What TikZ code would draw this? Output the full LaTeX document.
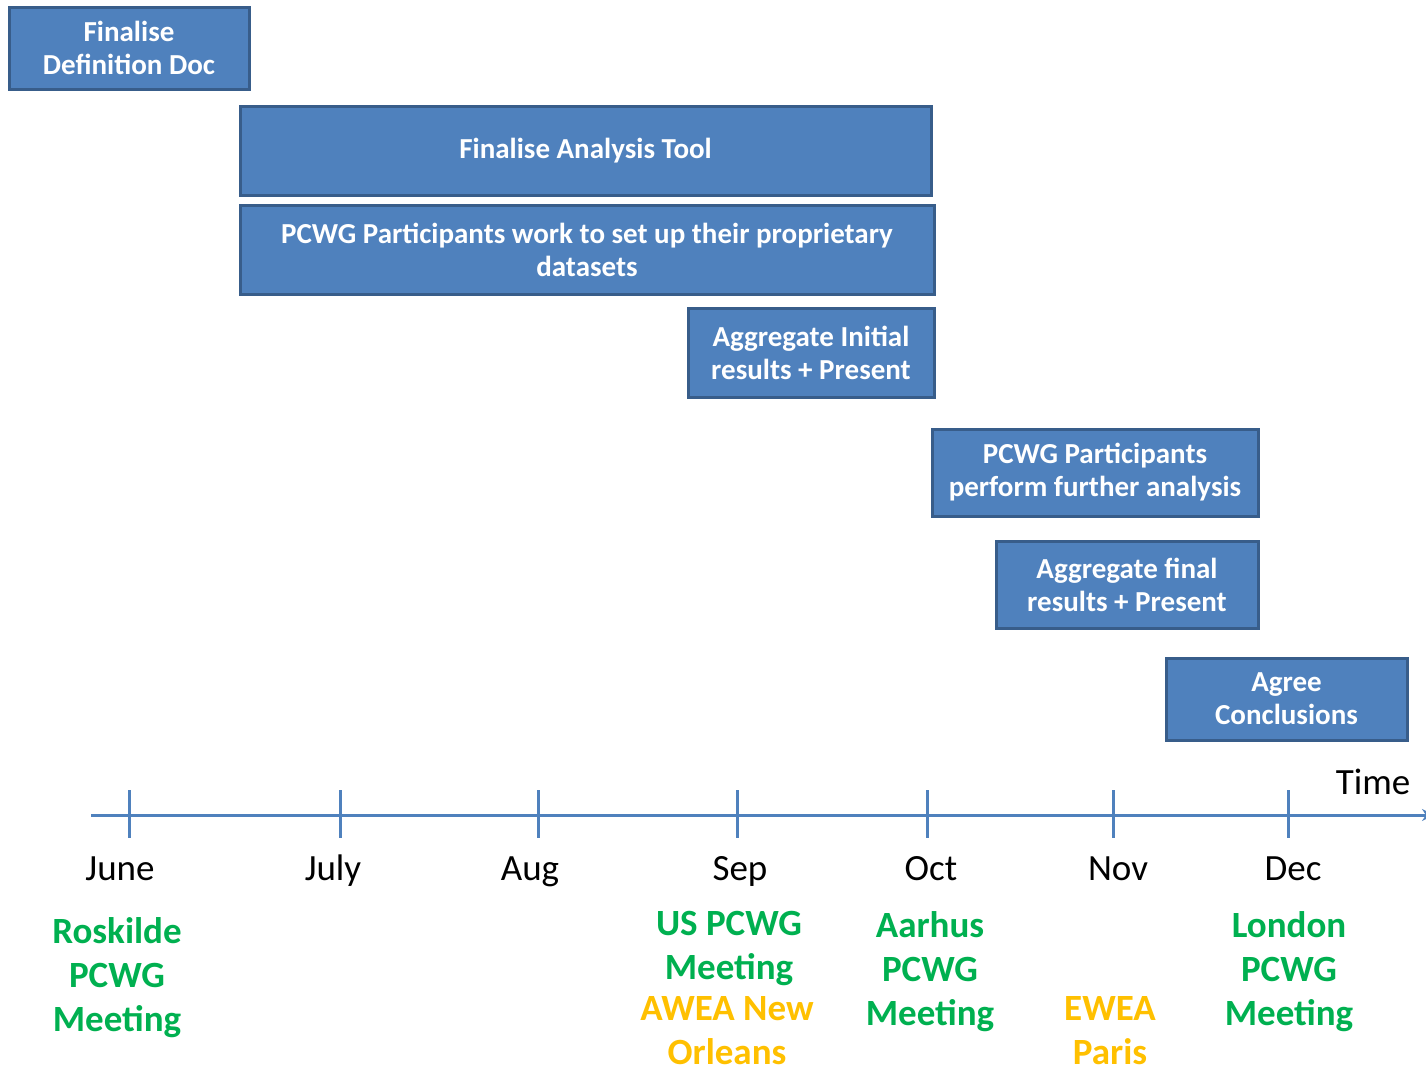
\documentclass[tikz,border=0pt]{standalone}
\usepackage{fontspec}
\setmainfont{Carlito}
\usetikzlibrary{arrows.meta}
\definecolor{taskfill}{HTML}{4F81BD}
\definecolor{taskline}{HTML}{385D8A}
\definecolor{meetgreen}{HTML}{00B050}
\definecolor{confyellow}{HTML}{FFC000}
\tikzstyle{task}=[rectangle, fill=taskfill, draw=taskline, line width=3pt, text=white, align=center, inner sep=0pt, anchor=center, font=\fontsize{29}{33}\selectfont\bfseries]
\tikzstyle{month}=[font=\fontsize{37}{40}\selectfont, anchor=base]
\tikzstyle{meet}=[align=center, anchor=north, inner sep=0pt, text=meetgreen, font=\fontsize{37}{44}\selectfont\bfseries]
\tikzstyle{conf}=[meet, text=confyellow]
\newcommand{\taskbox}[6]
{
  \node[task, minimum width=#4-#2, minimum height=#5-#3] (#1) at ({(#2+#4)/2},{(#3+#5)/2+2}) {#6};
}
\begin{document}
\begin{tikzpicture}[x=1pt, y=-1pt]
	\useasboundingbox (0,0) rectangle (1426,1072);

	% tasks
	\taskbox{defdoc}{9}{5}{249}{87}{Finalise\\Definition Doc}
	\taskbox{tool}{240}{104}{931}{193}{Finalise Analysis Tool}
	\taskbox{datasets}{240}{203}{934}{292}{PCWG Participants work to set up their proprietary\\datasets}
	\taskbox{initial}{688}{306}{934}{395}{Aggregate Initial\\results + Present}
	\taskbox{further}{932}{427}{1258}{514}{PCWG Participants\\perform further analysis}
	\taskbox{final}{996}{539}{1258}{626}{Aggregate final\\results + Present}
	\taskbox{agree}{1166}{656}{1407}{738}{Agree\\Conclusions}

	% time axis
	\coordinate (start) at (91,815);
	\coordinate (end) at (1434,815);
	\draw[taskfill, line width=3pt, -{Stealth[length=12pt,width=12pt]}] (start) -- (end);
	\node[month] (time) at (1373,794) {Time};

	\foreach \name/\x/\lx in {June/129/120, July/340/333, Aug/538/530, Sep/737/740, Oct/927/931, Nov/1113/1118, Dec/1288/1293}
	{
		\draw[taskfill, line width=3pt] (\x,790) -- (\x,838);
		\node[month] (m\name) at (\lx,880) {\name};
	}

	% meetings
	\node[meet] (roskilde) at (117,917) {Roskilde\\PCWG\\Meeting};
	\node[meet] (us) at (729,911) {US PCWG\\Meeting};
	\node[conf] (awea) at (727,996) {AWEA New\\Orleans};
	\node[meet] (aarhus) at (930,911) {Aarhus\\PCWG\\Meeting};
	\node[conf] (ewea) at (1110,996) {EWEA\\Paris};
	\node[meet] (london) at (1289,911) {London\\PCWG\\Meeting};

\end{tikzpicture}
\end{document}
